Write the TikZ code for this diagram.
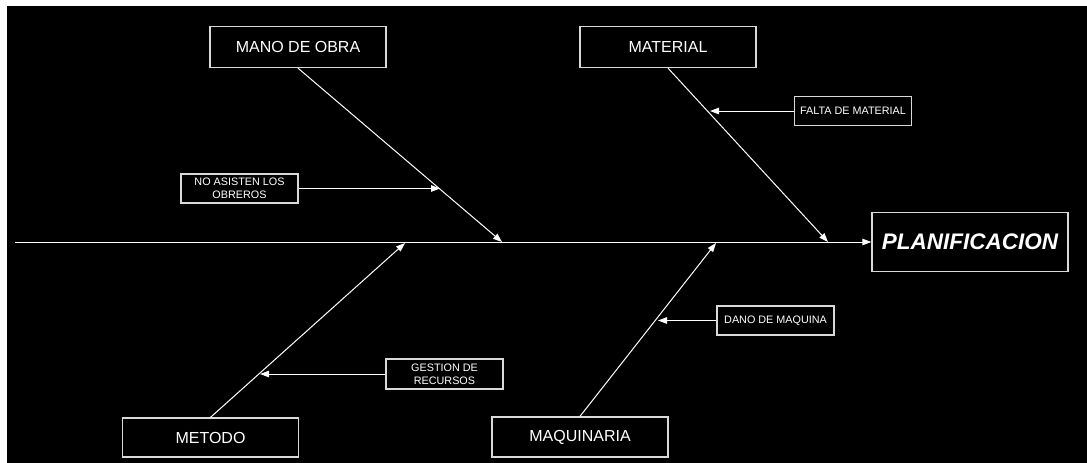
\documentclass[tikz,border=0pt]{standalone}
\usepackage{fontspec}
\setmainfont{Liberation Sans}
\usetikzlibrary{arrows.meta}

\begin{document}
\begin{tikzpicture}[x=1pt,y=-1pt,
  causa/.style={draw=white!85!black,line width=1.3pt,text=white,minimum width=176pt,minimum height=41pt,inner sep=0pt,font=\fontsize{16}{18}\selectfont},
  subcausa/.style={draw=white!85!black,line width=1.1pt,text=white,minimum width=117pt,minimum height=29pt,inner sep=0pt,align=center,font=\fontsize{10.8}{12.6}\selectfont},
  flecha/.style={draw=white,line width=1pt,-{Triangle[length=9pt,width=6.5pt]}}]
\useasboundingbox (0,0) rectangle (1087,463);
\fill[white] (0,0) rectangle (1087,463);
\fill[black] (7,6) rectangle (1087,463);
% causas
\node[causa] (mano) at (298,47) {MANO DE OBRA};
\node[causa] (material) at (668,47) {MATERIAL};
\node[causa,minimum height=39pt] (metodo) at (210.5,437.5) {METODO};
\node[causa,minimum height=40pt] (maquinaria) at (580,437) {MAQUINARIA};
\node[draw=white!85!black,line width=1.3pt,text=white,minimum width=196pt,minimum height=59pt,inner sep=0pt,
  font=\fontsize{22.5}{26}\selectfont\bfseries\itshape] (plan) at (970,242) {PLANIFICACION};
% subcausas
\node[subcausa] (falta) at (853,111) {FALTA DE MATERIAL};
\node[subcausa] (noasis) at (239.5,188.5) {NO ASISTEN LOS\\OBREROS};
\node[subcausa,minimum height=30pt] (gestion) at (444.5,374) {GESTION DE\\RECURSOS};
\node[subcausa] (dano) at (775.5,320.5) {DANO DE MAQUINA};
% espina
\coordinate (cola) at (15,242);
\coordinate (p1) at (502,242);
\coordinate (p2) at (828,242);
\coordinate (p3) at (405,243);
\coordinate (p4) at (716,243);
\draw[flecha] (cola) -- (plan.west);
\draw[flecha] (mano.south) -- (p1);
\draw[flecha] (material.south) -- (p2);
\draw[flecha] (metodo.north) -- (p3);
\draw[flecha] (maquinaria.north) -- (p4);
% flechas de subcausas
\coordinate (c1) at (440,188.5);
\coordinate (c2) at (710,111);
\coordinate (c3) at (260,374);
\coordinate (c4) at (658,320.5);
\draw[flecha] (noasis.east) -- (c1);
\draw[flecha] (falta.west) -- (c2);
\draw[flecha] (gestion.west) -- (c3);
\draw[flecha] (dano.west) -- (c4);
\end{tikzpicture}
\end{document}
